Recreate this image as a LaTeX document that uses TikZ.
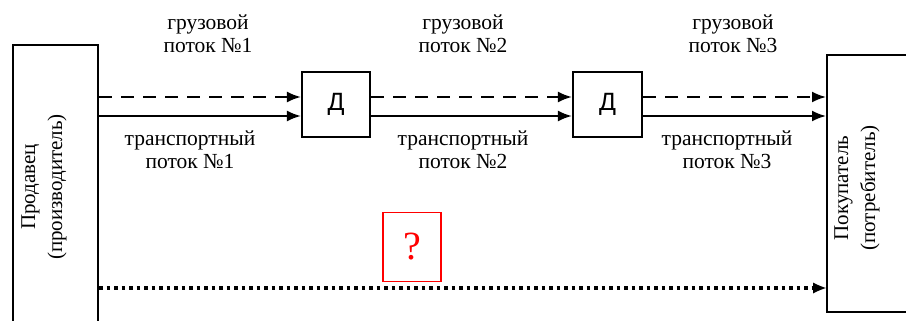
\documentclass[tikz,border=0pt]{standalone}
\usepackage{fontspec}
\setmainfont{Liberation Serif}
\newfontfamily\dfont{Liberation Sans}
\usetikzlibrary{arrows.meta}

\begin{document}
\begin{tikzpicture}[x=1pt,y=-1pt]
\tikzstyle{every node}+=[inner sep=0pt]
\tikzstyle{party}=[draw=black,line width=2pt]
\tikzstyle{partytext}=[rotate=90,align=center,font=\fontsize{21}{27}\selectfont]
\tikzstyle{dbox}=[draw=black,line width=2.2pt,minimum height=65pt,font=\dfont\fontsize{25}{28}\selectfont]
\tikzstyle{flowlabel}=[align=center,font=\fontsize{21.5}{23}\selectfont]
\tikzstyle{flow}=[black,line width=2pt,-{Latex[length=14pt,width=11pt]}]
\useasboundingbox (0,0) rectangle (906,321);
% participants
\node [party,minimum width=85pt,minimum height=300pt] (seller) at (55.5,195) {};
\node [partytext] (sellertext) at (44,187) {Продавец\\(производитель)};
\node [party,minimum width=110pt,minimum height=257pt] (buyer) at (882,183.5) {};
\node [partytext] (buyertext) at (857,188) {Покупатель\\(потребитель)};
\node [dbox,minimum width=68pt] (d1) at (336,104.5) {Д};
\node [dbox,minimum width=69pt] (d2) at (607.5,104.5) {Д};
\node [draw=red,line width=1.2pt,minimum width=58pt,minimum height=69pt,text=red,font=\fontsize{40}{40}\selectfont] (quest) at (412,247) {?};
% labels
\node [flowlabel] (cargo1) at (208,34) {грузовой\\поток №1};
\node [flowlabel] (cargo2) at (463,34) {грузовой\\поток №2};
\node [flowlabel] (cargo3) at (733,34) {грузовой\\поток №3};
\node [flowlabel] (trans1) at (190,150) {транспортный\\поток №1};
\node [flowlabel] (trans2) at (463,150) {транспортный\\поток №2};
\node [flowlabel] (trans3) at (727,150) {транспортный\\поток №3};
% flows
\draw [flow,dash pattern=on 13pt off 9pt] (seller.east |- 0,97) -- (d1.west |- 0,97);
\draw [flow] (seller.east |- 0,116) -- (d1.west |- 0,116);
\draw [flow,dash pattern=on 13pt off 9pt] (d1.east |- 0,97) -- (d2.west |- 0,97);
\draw [flow] (d1.east |- 0,116) -- (d2.west |- 0,116);
\draw [flow,dash pattern=on 13pt off 9pt] (d2.east |- 0,97) -- (buyer.west |- 0,97);
\draw [flow] (d2.east |- 0,116) -- (buyer.west |- 0,116);
\draw [flow,line width=3.5pt,dash pattern=on 3.5pt off 4pt,-{Latex[length=13pt,width=11pt,line width=0pt]}] (seller.east |- 0,288) -- (buyer.west |- 0,288);
\end{tikzpicture}
\end{document}
